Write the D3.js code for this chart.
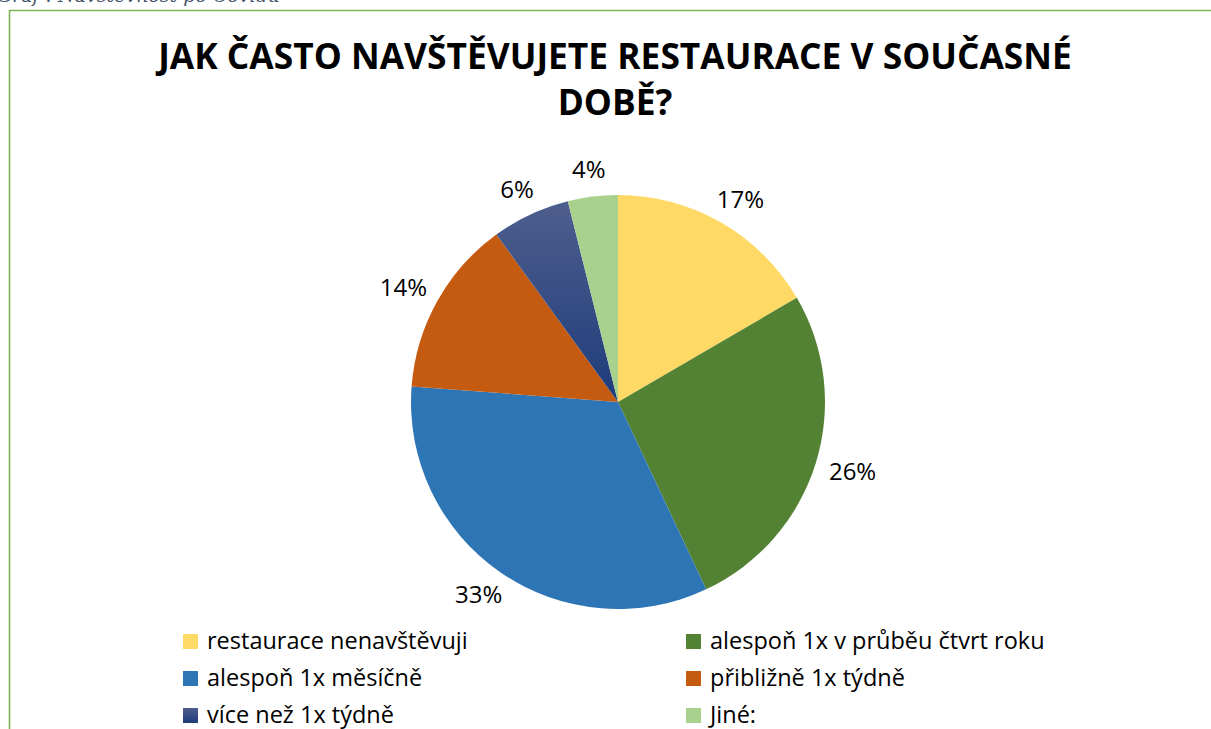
<!DOCTYPE html>
<html>
<head>
<meta charset="utf-8">
<script src="https://cdn.jsdelivr.net/npm/d3@7"></script>
<style>
  body { margin: 0; background: #fff; }
  svg { display: block; }
</style>
</head>
<body>
<div id="chart"></div>
<script>
// data
var categories = ["restaurace nenavštěvuji", "alespoň 1x v průběu čtvrt roku", "alespoň 1x měsíčně",
  "přibližně 1x týdně", "více než 1x týdně", "Jiné:"];
var shares = [16.6, 26.4, 33.2, 13.8, 6.1, 3.9];
var sliceColors = ["#FFD966", "#548235", "#2E75B6", "#C55A11", "url(#navyGrad)", "#A9D18E"];
var titleLines = ["JAK ČASTO NAVŠTĚVUJETE RESTAURACE V SOUČASNÉ", "DOBĚ?"];
var captionText = "Graf : Návštěvnost po Covidu";

var svgWidth = 1211, svgHeight = 729;
var cx = 618, cy = 402, radius = 207;

var svg = d3.select("#chart").append("svg")
  .attr("width", svgWidth)
  .attr("height", svgHeight);

var defs = svg.append("defs");
var grad = defs.append("linearGradient")
  .attr("id", "navyGrad")
  .attr("x1", 0).attr("y1", 0).attr("x2", 0).attr("y2", 1);
grad.append("stop").attr("offset", "0%").attr("stop-color", "#4E5E8E");
grad.append("stop").attr("offset", "100%").attr("stop-color", "#1F3C7A");

// caption, cut off at the top like in the source document
svg.append("text")
  .attr("x", -3)
  .attr("y", 2)
  .attr("font-family", "'DejaVu Serif', serif")
  .attr("font-style", "italic")
  .attr("font-size", "19px")
  .attr("fill", "#44546A")
  .text(captionText);

// green frame
svg.append("path")
  .attr("d", `M9.5,${svgHeight} V10.5 H${svgWidth}`)
  .attr("fill", "none")
  .attr("stroke", "#7CB453")
  .attr("stroke-width", 1.6);

// title
var title = svg.append("text")
  .attr("text-anchor", "middle")
  .attr("font-family", "'Open Sans', sans-serif")
  .attr("font-weight", "bold")
  .attr("font-size", "33px")
  .attr("fill", "#000");
title.selectAll("tspan")
  .data(titleLines)
  .enter()
  .append("tspan")
  .attr("x", 615)
  .attr("y", (d, i) => 69 + i * 46)
  .text(d => d);

// fit first line to the reference width
var w = title.select("tspan").node().getComputedTextLength();
if (w > 0) title.attr("font-size", (33 * 914 / w) + "px");

// pie
var pie = d3.pie().sort(null).value(d => d)(shares);
var arc = d3.arc().innerRadius(0).outerRadius(radius);

var pieGroup = svg.append("g")
  .attr("transform", `translate(${cx}, ${cy})`);

pieGroup.selectAll("path")
  .data(pie)
  .enter()
  .append("path")
  .attr("d", arc)
  .attr("fill", (d, i) => sliceColors[i]);

// outside-end labels: box pushed out along the mid angle
var gap = 15;
var labels = pieGroup.selectAll(".pct")
  .data(pie)
  .enter()
  .append("text")
  .classed("pct", true)
  .attr("text-anchor", "middle")
  .attr("dy", "0.35em")
  .attr("font-family", "'Open Sans', sans-serif")
  .attr("font-size", "24px")
  .attr("fill", "#000")
  .text(d => Math.round(d.data) + "%");

labels.each(function(d) {
  var a = (d.startAngle + d.endAngle) / 2;
  var bw = this.getComputedTextLength(), bh = 24;
  var s = Math.sin(a), c = Math.cos(a);
  d3.select(this)
    .attr("x", (radius + gap) * s + s * bw / 2)
    .attr("y", -(radius + gap) * c - c * bh / 2);
});

// legend: two columns, three rows
var legend = svg.append("g");
var items = legend.selectAll("g")
  .data(categories)
  .enter()
  .append("g")
  .attr("transform", (d, i) => `translate(${i % 2 === 0 ? 183 : 686}, ${634 + Math.floor(i / 2) * 37})`);

items.append("rect")
  .attr("width", 15)
  .attr("height", 15)
  .attr("fill", (d, i) => sliceColors[i]);

items.append("text")
  .attr("x", 24)
  .attr("y", 7)
  .attr("dy", "0.35em")
  .attr("font-family", "'Open Sans', sans-serif")
  .attr("font-size", "23.5px")
  .attr("fill", "#000")
  .text(d => d);
</script>
</body>
</html>
